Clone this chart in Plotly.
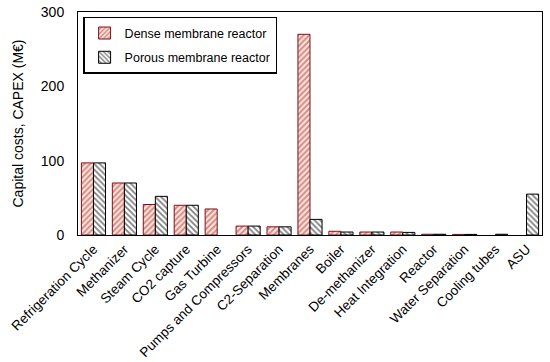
import plotly.graph_objects as go

categories = ["Refrigeration Cycle", "Methanizer", "Steam Cycle", "CO2 capture", "Gas Turbine",
              "Pumps and Compressors", "C2-Separation", "Membranes", "Boiler", "De-methanizer",
              "Heat Integration", "Reactor", "Water Separation", "Cooling tubes", "ASU"]
dense = [97, 70, 41, 40, 35, 12, 11, 270, 5, 4, 4, 1, 0.8, None, None]
porous = [97, 70, 52, 40, None, 12, 11, 21, 4, 4, 3.5, 1, 0.8, 1, 55]
y_ticks = [0, 100, 200, 300]

fig = go.Figure()
fig.add_trace(go.Bar(
    x=categories, y=dense, name="Dense membrane reactor", legendgroup="dense",
    marker=dict(color="#f7e4d6", line=dict(color="#7a1020", width=1),
                pattern=dict(shape="/", fgcolor="#b8202c", bgcolor="#f7e4d6", size=4, solidity=0.45)),
))
fig.add_trace(go.Bar(
    x=categories, y=porous, name="Porous membrane reactor", legendgroup="porous",
    marker=dict(color="white", line=dict(color="black", width=1),
                pattern=dict(shape="\\", fgcolor="black", bgcolor="white", size=4, solidity=0.45)),
))

fig.update_layout(
    width=550, height=362,
    margin=dict(l=78, r=8, t=12, b=127),
    paper_bgcolor="white", plot_bgcolor="white",
    font=dict(family="Liberation Sans, Arial, sans-serif", size=13, color="black"),
    barmode="group", bargap=0.22, bargroupgap=0,
    showlegend=True,
    legend=dict(x=0.011, y=0.978, xanchor="left", yanchor="top",
                bordercolor="black", borderwidth=1.5, bgcolor="white",
                font=dict(size=12.5), itemwidth=30, tracegroupgap=5),
    xaxis=dict(tickangle=-45, showline=True, linecolor="black", linewidth=1, mirror=True,
               ticks="", tickfont=dict(size=13.5), automargin=False),
    yaxis=dict(range=[0, 300], tickvals=y_ticks, showline=True, linecolor="black", linewidth=1,
               mirror=True, ticks="", showgrid=False, zeroline=False, automargin=False,
               tickfont=dict(size=14), ticklabelstandoff=10,
               title=dict(text="Capital costs, CAPEX (M€)", font=dict(size=14), standoff=13)),
)

fig.write_html("out.html", config={"displayModeBar": False},
               post_script="document.body.style.margin='0';document.body.style.overflow='hidden';")
